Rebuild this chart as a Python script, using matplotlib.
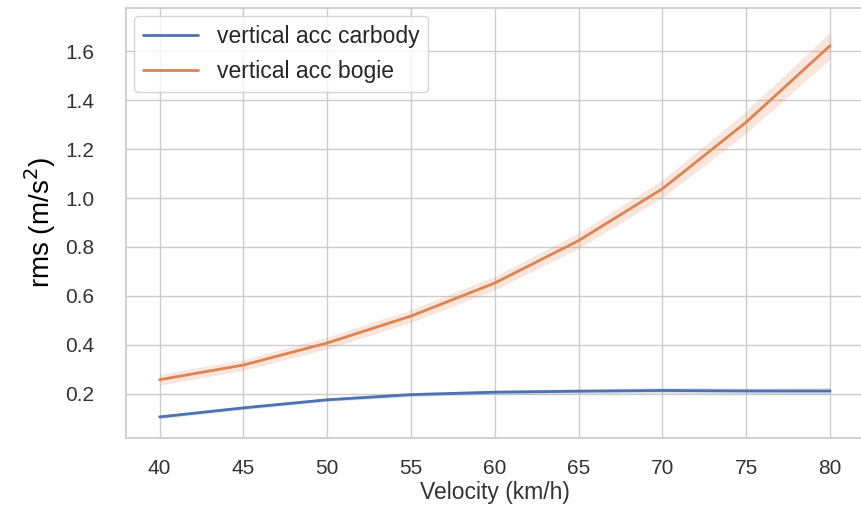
import matplotlib
matplotlib.use("Agg")
import matplotlib.pyplot as plt
import seaborn as sns
import numpy as np

velocity = [40, 45, 50, 55, 60, 65, 70, 75, 80]
carbody_mean = [0.106, 0.143, 0.176, 0.197, 0.207, 0.211, 0.214, 0.212, 0.212]
carbody_ci = [0.007, 0.007, 0.007, 0.008, 0.009, 0.010, 0.011, 0.012, 0.014]
bogie_mean = [0.258, 0.318, 0.408, 0.518, 0.653, 0.826, 1.038, 1.31, 1.622]
bogie_ci = [0.022, 0.022, 0.024, 0.026, 0.028, 0.032, 0.036, 0.045, 0.055]

sns.set_theme(style="whitegrid")
plt.rcParams["font.family"] = ["Liberation Sans", "DejaVu Sans"]
pal = sns.color_palette("deep")

fig, ax = plt.subplots(figsize=(8.61, 5.05), dpi=100)
fig.subplots_adjust(left=0.1465, right=1.003, top=0.9842, bottom=0.1327)

series = [
    ("vertical acc carbody", carbody_mean, carbody_ci, pal[0]),
    ("vertical acc bogie", bogie_mean, bogie_ci, pal[1]),
]
x = np.array(velocity)
for label, m, ci, col in series:
    m = np.array(m)
    ci = np.array(ci)
    ax.plot(x, m, color=col, lw=2, label=label)
    ax.fill_between(x, m - ci, m + ci, color=col, alpha=0.2, lw=0)

ax.set_xlim(38, 82)
ax.set_ylim(0.02, 1.776)
ax.set_xticks(velocity)
ax.set_yticks([0.2, 0.4, 0.6, 0.8, 1.0, 1.2, 1.4, 1.6])
ax.tick_params(axis="both", labelsize=15, colors="#333333")
ax.tick_params(axis="y", pad=17)
ax.tick_params(axis="x", pad=9)
ax.set_xlabel("Velocity (km/h)", fontsize=16.5, color="#333333", labelpad=2)
ax.set_ylabel("rms (m/s$^2$)", fontsize=20, color="black", labelpad=5)
ax.legend(loc="upper left", fontsize=16.5, frameon=True, handlelength=2.4,
          bbox_to_anchor=(0.0, 1.0), borderaxespad=0.35)
for s in ax.spines.values():
    s.set_color("#cccccc")

fig.savefig("out.png", dpi=100)
